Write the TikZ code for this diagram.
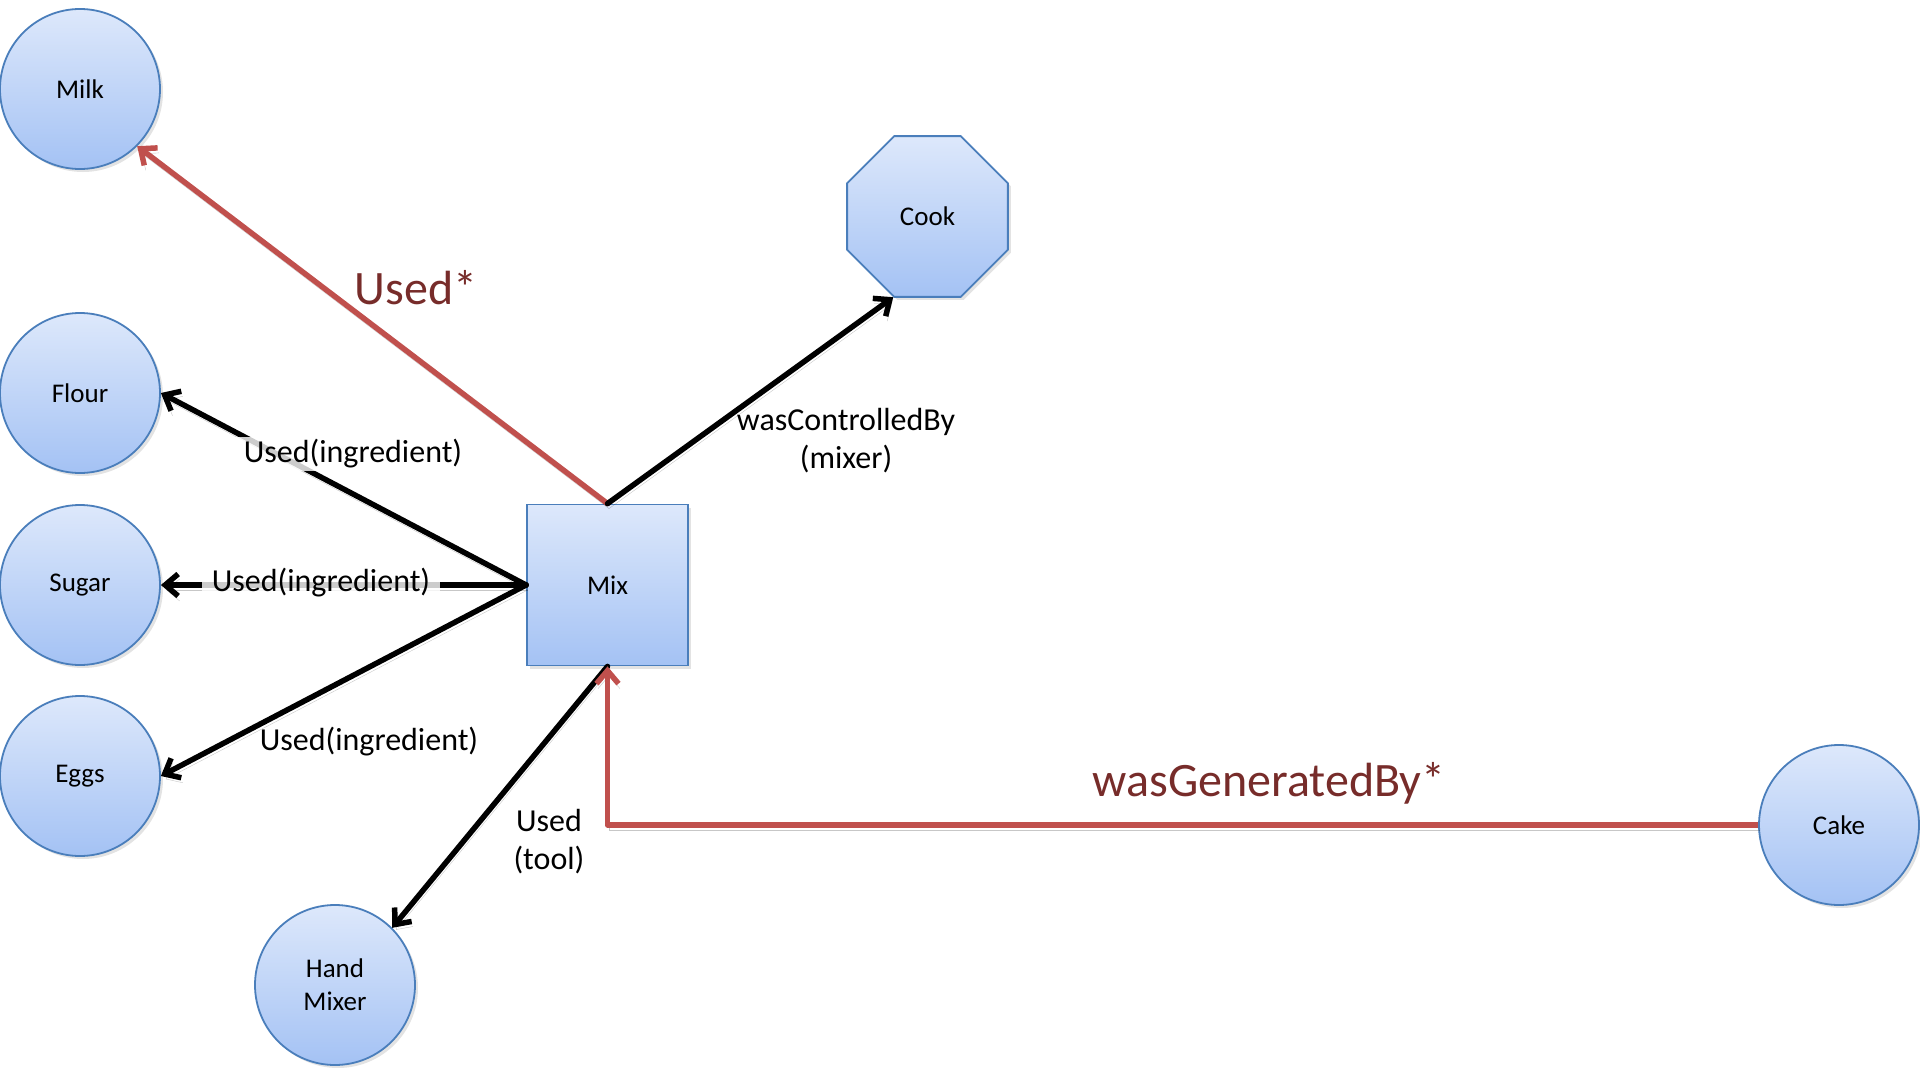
\documentclass[tikz,border=0pt]{standalone}
\usepackage{fontspec}
\setmainfont{Carlito}
\usetikzlibrary{arrows.meta,shapes.geometric,shadows}
\definecolor{nodetop}{HTML}{DDE8FB}
\definecolor{nodebot}{HTML}{A4C2F4}
\definecolor{nodeborder}{HTML}{4A7EBB}
\definecolor{relred}{HTML}{C0504D}
\definecolor{labred}{HTML}{772C2A}
\tikzset{
  basenode/.style={draw=nodeborder, line width=1.8pt, top color=nodetop, bottom color=nodebot,
    inner sep=0pt, align=center, font=\fontsize{27}{33}\selectfont,
    drop shadow={opacity=0.22, shadow xshift=3pt, shadow yshift=-3pt}},
  entity/.style={basenode, circle, minimum size=160pt},
  activity/.style={basenode, rectangle, minimum size=161pt},
  agent/.style={basenode, regular polygon, regular polygon sides=8, minimum size=174pt},
  conn/.style={line width=5.5pt, line cap=round, -{Straight Barb[length=13pt,width=22pt]},
    preaction={draw=black, draw opacity=0.22, transform canvas={xshift=1.5pt,yshift=-5pt}}},
  redconn/.style={conn, draw=relred},
  lab/.style={font=\fontsize{32}{38}\selectfont, align=center, inner sep=3pt},
  covlab/.style={lab, fill=white, fill opacity=0.8, text opacity=1, inner xsep=10pt},
  redlab/.style={font=\fontsize{48}{54}\selectfont, text=labred, inner sep=2pt}
}
\begin{document}
\begin{tikzpicture}[x=1pt,y=-1pt]
\useasboundingbox (0,0) rectangle (1920,1068);
% nodes
\node[entity] (milk) at (80,89) {Milk};
\node[entity] (flour) at (80,393) {Flour};
\node[entity] (sugar) at (80,585) {Sugar};
\node[entity] (eggs) at (80,776) {Eggs};
\node[entity] (hm) at (335,985) {Hand\\Mixer};
\node[entity] (cake) at (1839,825) {Cake};
\node[activity] (mix) at (607.5,585) {Mix};
\node[agent] (cook) at (927.5,216.5) {Cook};
% connectors
\draw[redconn] (mix.north) -- (milk.-45);
\draw[conn] (mix.north) -- (cook.247.5);
\draw[conn] (mix.west) -- (flour.east);
\draw[conn] (mix.west) -- (sugar.east);
\draw[conn] (mix.west) -- (eggs.east);
\draw[conn] (mix.south) -- (hm.45);
\draw[redconn, line cap=butt, line join=round] (cake.west) -| (mix.south);
% labels
\node[redlab] (lused) at (416,288) {Used*};
\node[redlab] (lgen) at (1269,783) {wasGeneratedBy*};
\node[lab] (lctrl) at (846,441) {wasControlledBy\\(mixer)};
\node[covlab] (lflour) at (353,454) {Used(ingredient)};
\node[covlab] (lsugar) at (321,583) {Used(ingredient)};
\node[lab] (leggs) at (369,742) {Used(ingredient)};
\node[lab] (ltool) at (549,842) {Used\\(tool)};
\end{tikzpicture}
\end{document}
